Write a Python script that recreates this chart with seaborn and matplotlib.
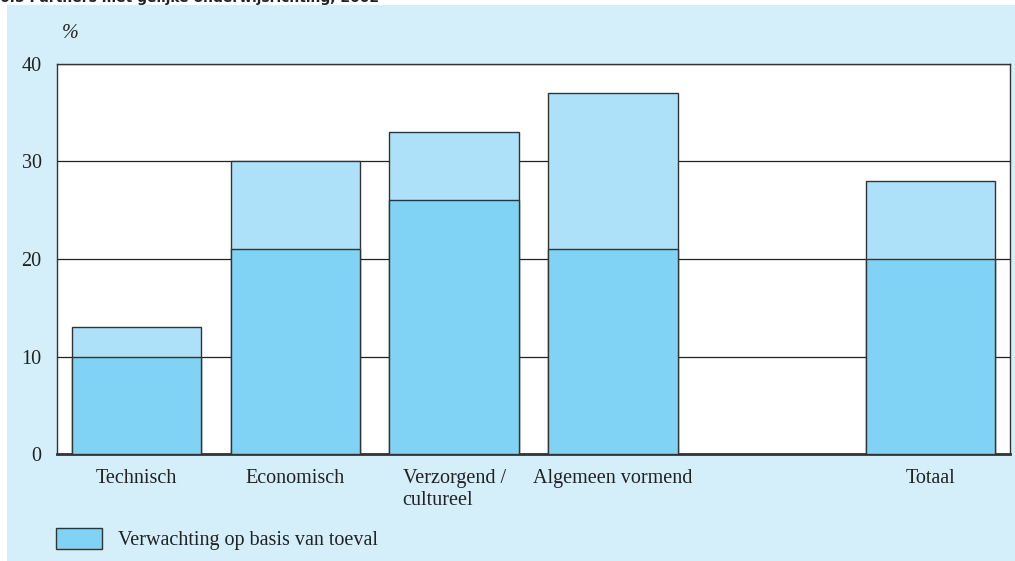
import matplotlib
matplotlib.use("Agg")
import matplotlib.pyplot as plt
import matplotlib.patches as mpatches
import numpy as np
import pandas as pd
import seaborn as sns

categories = ["Technisch", "Economisch", "Verzorgend /\ncultureel", "Algemeen vormend", "Totaal"]
order = ["Technisch", "Economisch", "Verzorgend /\ncultureel", "Algemeen vormend", "", "Totaal"]
observed = [13, 30, 33, 37, 28]
expected = [10, 21, 26, 21, 20]
y_ticks = [0, 10, 20, 30, 40]
legend_label = "Verwachting op basis van toeval"
title = "6.5 Partners met gelijke onderwijsrichting, 2002"

sns.set_theme(style="white")
plt.rcParams["font.family"] = ["Liberation Serif", "DejaVu Serif"]

LIGHT = "#ade1fa"
DARK = "#80d3f5"
PANEL = "#d4eefa"
FS = 14.5

fig = plt.figure(figsize=(10.15, 5.61), dpi=100, facecolor="white")
fig.patches.append(mpatches.Rectangle((7 / 1015, 0), 1 - 7 / 1015, (561 - 5) / 561,
                                      transform=fig.transFigure, facecolor=PANEL,
                                      edgecolor="none", zorder=-10))
fig.text(0.0, 1 - 2 / 561, title, fontsize=10, fontweight="bold",
         family=["DejaVu Sans"], va="baseline", ha="left", color="#222222", zorder=-5)

ax = fig.add_axes([57 / 1015, (561 - 454) / 561, (1010 - 57) / 1015, (454 - 64) / 561])
ax.set_zorder(5)
ax.set_facecolor("white")

df = pd.DataFrame({"cat": categories, "observed": observed, "expected": expected})

sns.barplot(data=df, x="cat", y="observed", order=order, color=LIGHT, saturation=1,
            width=0.815, edgecolor="#333333", linewidth=1.0, ax=ax, zorder=2)
sns.barplot(data=df, x="cat", y="expected", order=order, color=DARK, saturation=1,
            width=0.815, edgecolor="#333333", linewidth=1.0, ax=ax, zorder=3)

ax.set_xlim(-0.5, 5.5)
ax.set_ylim(0, 40)
ax.set_yticks(y_ticks)
ax.set_yticklabels([str(t) for t in y_ticks], fontsize=FS, color="#222222")
ax.yaxis.grid(True, color="#222222", linewidth=0.9, zorder=1)
ax.set_axisbelow(True)
ax.tick_params(axis="y", length=0, pad=11)
ax.tick_params(axis="x", length=0, pad=11)
ax.set_xlabel("")
ax.set_ylabel("")
labels = ax.get_xticklabels()
for lab in labels:
    lab.set_fontsize(FS)
    lab.set_color("#222222")
    lab.set_verticalalignment("top")
    if "\n" in lab.get_text():
        lab.set_multialignment("left")
        lab.set_linespacing(1.2)

for side in ["left", "right", "top", "bottom"]:
    ax.spines[side].set_visible(True)
    ax.spines[side].set_color("#333333")
    ax.spines[side].set_linewidth(1.0)
ax.spines["bottom"].set_linewidth(2.0)

fig.text(62 / 1015, 1 - 33 / 561, "%", fontsize=FS, style="italic", va="center",
         ha="left", color="#222222")

handle = mpatches.Patch(facecolor=DARK, edgecolor="#333333", linewidth=1.0, label=legend_label)
fig.legend(handles=[handle], loc="center left", bbox_to_anchor=(56 / 1015, 1 - 539 / 561),
           frameon=False, fontsize=FS, handlelength=2.3, handleheight=1.2,
           handletextpad=0.8, borderaxespad=0, borderpad=0, labelcolor="#222222")

fig.savefig("out.png", dpi=100, facecolor="white")
